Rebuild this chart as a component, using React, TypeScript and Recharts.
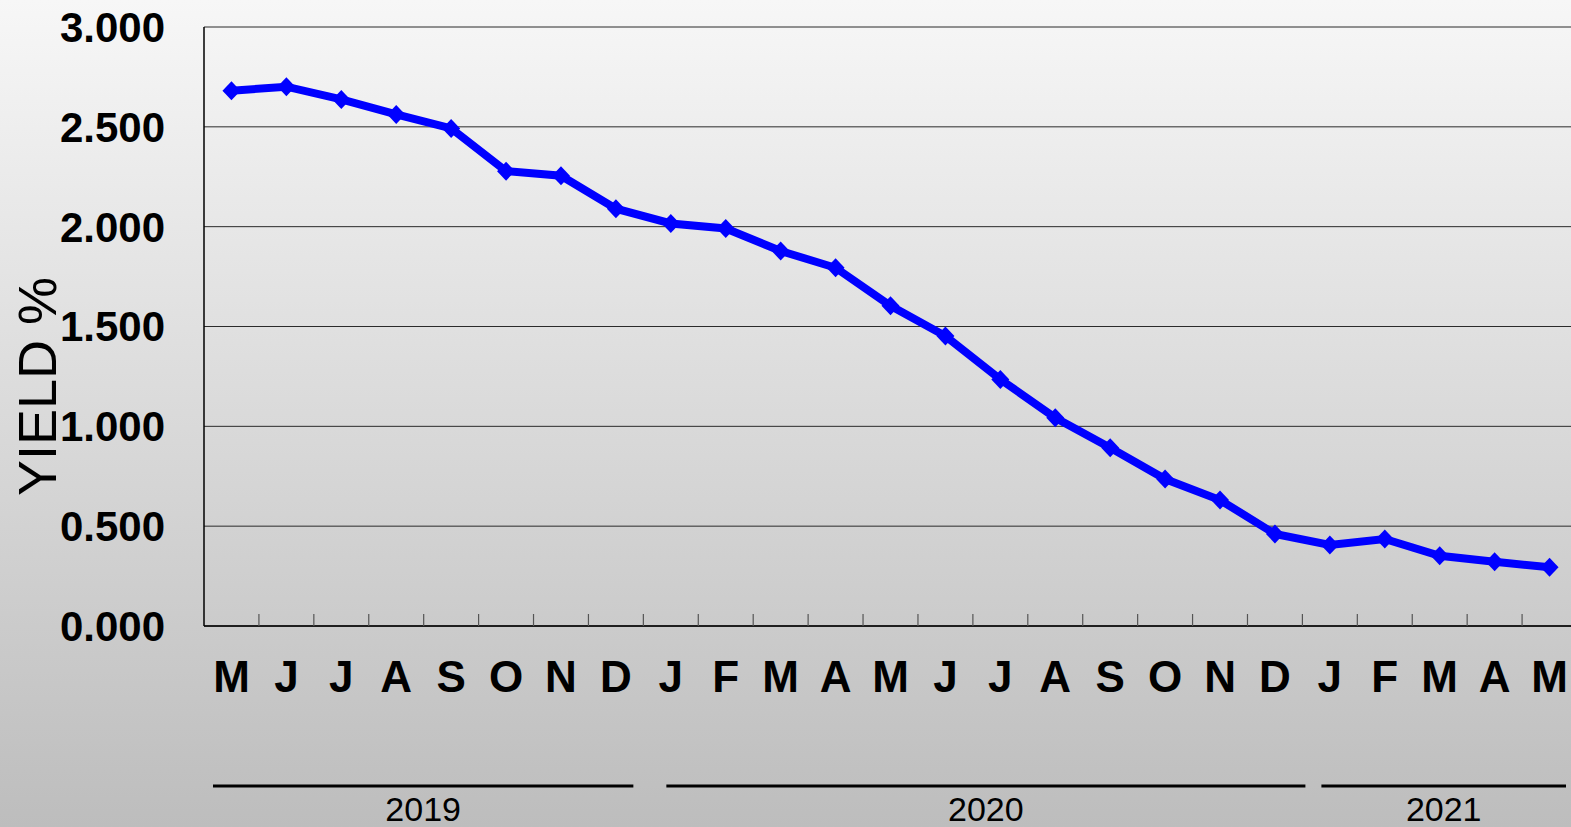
import { LineChart, Line, XAxis, YAxis, CartesianGrid } from "recharts";

const MONTHS = ["M", "J", "J", "A", "S", "O", "N", "D", "J", "F", "M", "A", "M", "J", "J", "A", "S", "O", "N", "D", "J", "F", "M", "A", "M"];
const YIELDS = [
  2.681, 2.701, 2.637, 2.562, 2.492, 2.278, 2.255, 2.09, 2.016, 1.991, 1.878, 1.794, 1.604, 1.452, 1.235, 1.043, 0.893, 0.736,
  0.631, 0.461, 0.406, 0.436, 0.352, 0.322, 0.294,
];
const YEARS = ["2019", "2020", "2021"];
const YEAR_MONTHS = [8, 12, 5];
const Y_TICKS = [0, 0.5, 1, 1.5, 2, 2.5, 3];

// layout
const CHART_W = 1578;
const CHART_H = 827;
const Y_AXIS_W = 204;
const MARGIN = { top: 27, right: 1, left: 0, bottom: 0 };
const BW = (CHART_W - MARGIN.left - MARGIN.right - Y_AXIS_W) / MONTHS.length;
const YEAR_PADS = [
  [9, -10],
  [23, 3],
  [19, -11],
];
const FONT = "'Liberation Sans', Arial, sans-serif";

const data = MONTHS.map((m, i) => ({ key: String(i), month: m, yieldPct: YIELDS[i] }));

const yearStarts = YEAR_MONTHS.map((_, g) => YEAR_MONTHS.slice(0, g).reduce((a, b) => a + b, 0));

function MonthTick(props: any) {
  const { x, y, index } = props;
  const left = x - BW / 2;
  const g = yearStarts.indexOf(index);
  return (
    <g>
      {index > 0 && <line x1={left} x2={left} y1={y - 12} y2={y} stroke="#555" strokeWidth={1.2} />}
      <text x={x} y={y + 66} textAnchor="middle" fontFamily={FONT} fontWeight="bold" fontSize={44} fill="#000">
        {MONTHS[index]}
      </text>
      {g >= 0 && (
        <g>
          <line
            x1={left + YEAR_PADS[g][0]}
            x2={left + YEAR_MONTHS[g] * BW + YEAR_PADS[g][1]}
            y1={y + 160}
            y2={y + 160}
            stroke="#000"
            strokeWidth={3}
          />
          <text
            x={left + (YEAR_MONTHS[g] * BW + YEAR_PADS[g][0] + YEAR_PADS[g][1]) / 2}
            y={y + 195}
            textAnchor="middle"
            fontFamily={FONT}
            fontSize={34}
            fill="#000"
          >
            {YEARS[g]}
          </text>
        </g>
      )}
    </g>
  );
}

function Diamond(props: any) {
  const { cx, cy, index } = props;
  if (cx == null || cy == null) return <g key={index} />;
  return <polygon key={index} points={`${cx},${cy - 9.5} ${cx + 9},${cy} ${cx},${cy + 9.5} ${cx - 9},${cy}`} fill="#0000ff" />;
}

function YLabel(props: any) {
  const vb = props.viewBox || { x: 0, y: 27, width: 204, height: 599 };
  const x = vb.x + 56;
  const y = vb.y + vb.height / 2 + 60;
  return (
    <text x={x} y={y} transform={`rotate(-90 ${x} ${y})`} textAnchor="middle" fontFamily={FONT} fontSize={54} fill="#000">
      YIELD %
    </text>
  );
}

export default function App() {
  return (
    <div
      style={{
        position: "fixed",
        left: 0,
        top: 0,
        width: 1571,
        height: CHART_H,
        overflow: "hidden",
        background: "linear-gradient(to bottom, #f7f7f7 0%, #bdbdbd 100%)",
      }}
    >
      <LineChart width={CHART_W} height={CHART_H} data={data} margin={MARGIN}>
        <CartesianGrid horizontal vertical={false} stroke="#2b2b2b" strokeWidth={1} />
        <XAxis
          dataKey="key"
          type="category"
          scale="band"
          interval={0}
          height={201}
          tickSize={0}
          tickMargin={0}
          tickLine={false}
          axisLine={{ stroke: "#000", strokeWidth: 1.5 }}
          tick={<MonthTick />}
        />
        <YAxis
          width={Y_AXIS_W}
          domain={[0, 3]}
          ticks={Y_TICKS}
          interval={0}
          tickFormatter={(v: number) => v.toFixed(3)}
          tickLine={false}
          tickSize={0}
          tickMargin={39}
          axisLine={{ stroke: "#000", strokeWidth: 1.5 }}
          tick={{ fontFamily: FONT, fontWeight: "bold", fontSize: 42, fill: "#000" }}
          label={<YLabel />}
        />
        <Line
          type="linear"
          dataKey="yieldPct"
          stroke="#0000ff"
          strokeWidth={8}
          dot={(p: any) => <Diamond {...p} />}
          activeDot={false}
          isAnimationActive={false}
        />
      </LineChart>
    </div>
  );
}
